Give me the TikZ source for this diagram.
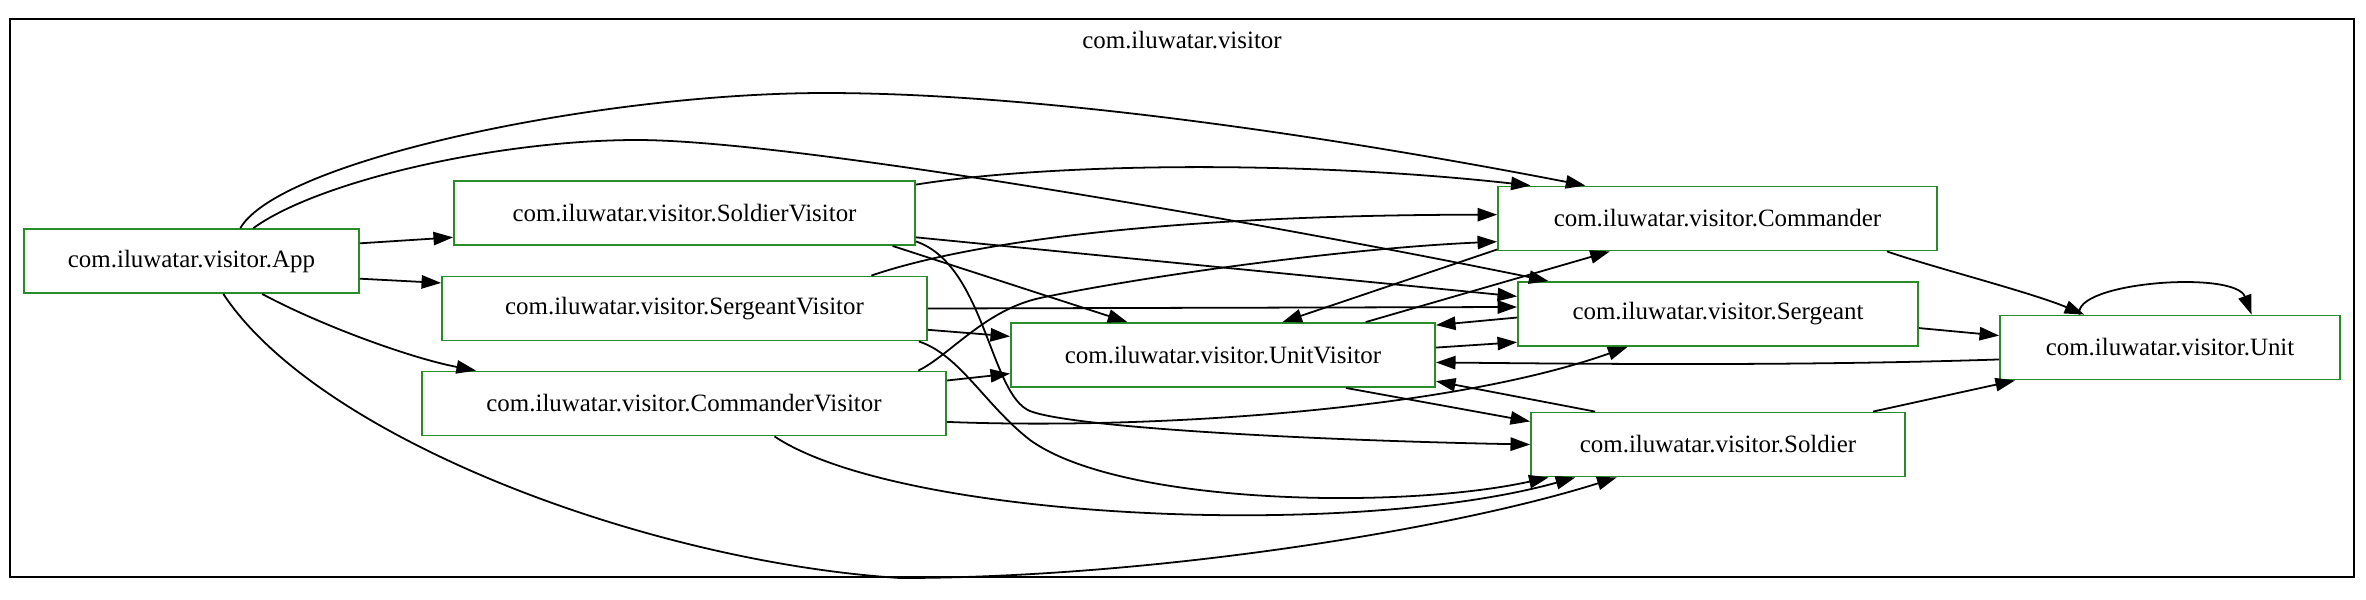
\documentclass[tikz,border=0pt]{standalone}
\usepackage{fontspec}
\setmainfont{Liberation Serif}
\usepackage{tikz}
\usepackage{xcolor}
\usetikzlibrary{arrows.meta}
\definecolor{clsgreen}{RGB}{40,140,40}

\begin{document}
\begin{tikzpicture}[x=0.5617pt, y=-0.5617pt, font=\fontsize{14}{16}\selectfont,
                cls/.style={draw=clsgreen, line width=1pt, minimum height=36pt, inner sep=0pt},
                dep/.style={-{Triangle[length=11pt, width=7.5pt]}, line width=1pt}]
                \useasboundingbox (0, 0) rectangle (2366, 599);
                \draw[line width=1pt] (10, 19) rectangle (2354, 577);
                \node (pkg) at (1182, 40) {com.iluwatar.visitor};

                \node[cls, minimum width=188.2pt] (app) at (191.5, 261) {com.iluwatar.visitor.App};
                \node[cls, minimum width=259.0pt] (soldierv) at (684.5, 213) {com.iluwatar.visitor.SoldierVisitor};
                \node[cls, minimum width=272.4pt] (sergeantv) at (684.5, 308.5) {com.iluwatar.visitor.SergeantVisitor};
                \node[cls, minimum width=294.3pt] (commanderv) at (684, 403.5) {com.iluwatar.visitor.CommanderVisitor};
                \node[cls, minimum width=238.2pt] (unitv) at (1223, 355) {com.iluwatar.visitor.UnitVisitor};
                \node[cls, minimum width=246.6pt] (commander) at (1717.5, 218.5) {com.iluwatar.visitor.Commander};
                \node[cls, minimum width=224.7pt] (sergeant) at (1718, 314) {com.iluwatar.visitor.Sergeant};
                \node[cls, minimum width=210.1pt] (soldier) at (1718, 444.5) {com.iluwatar.visitor.Soldier};
                \node[cls, minimum width=191.0pt] (unit) at (2170, 347.5) {com.iluwatar.visitor.Unit};

                \draw[dep] (app.6) -- (soldierv.186);
                \draw[dep] (app.-6) -- (sergeantv.174);
                \draw[dep] (app.-25) .. controls (320, 325) and (410, 358) .. (commanderv.171);
                \draw[dep] (app.34) .. controls (280, 160) and (600, 93) .. (825, 93) .. controls (1050, 93) and (1350, 140) .. (commander.166);
                \draw[dep] (app.28) .. controls (320, 180) and (500, 140) .. (637, 140) .. controls (800, 140) and (1300, 230) .. (sergeant.169);
                \draw[dep] (app.-46) .. controls (320, 440) and (650, 562) .. (900, 578) .. controls (1150, 578) and (1450, 530) .. (soldier.198);

                \draw[dep] (soldierv.7) .. controls (1050, 163) and (1300, 160) .. (commander.170);
                \draw[dep] (soldierv.-6) -- (sergeant.175);
                \draw[dep] (soldierv.-9) -- (unitv.161);
                \draw[dep] (soldierv.-7) .. controls (985, 265) and (990, 395) .. (1030, 411) .. controls (1070, 427) and (1300, 440) .. (soldier.180);

                \draw[dep] (sergeantv.10) .. controls (960, 245) and (1150, 215) .. (commander.179);
                \draw[dep] (sergeantv.0) -- (sergeant.178);
                \draw[dep] (sergeantv.-5) -- (unitv.175);
                \draw[dep] (sergeantv.-8) .. controls (960, 355) and (985, 405) .. (1030, 440) .. controls (1120, 505) and (1400, 510) .. (soldier.191);

                \draw[dep] (commanderv.8) .. controls (950, 355) and (985, 310) .. (1040, 298) .. controls (1150, 275) and (1350, 248) .. (commander.186);
                \draw[dep] (commanderv.5) -- (unitv.185);
                \draw[dep] (commanderv.-4) .. controls (1150, 430) and (1450, 410) .. (sergeant.200);
                \draw[dep] (commanderv.-20) .. controls (900, 520) and (1350, 540) .. (soldier.193);

                \draw[dep] (unitv.13) -- (commander.197);
                \draw[dep] (unitv.2) -- (sergeant.188);
                \draw[dep] (unitv.-15) -- (soldier.173);

                \draw[dep] (commander.188) -- (unitv.29);
                \draw[dep] (commander.-11) .. controls (1935, 268) and (2030, 292) .. (unit.159);
                \draw[dep] (sergeant.181) -- (unitv.8);
                \draw[dep] (sergeant.-4) -- (unit.176);
                \draw[dep] (soldier.165) -- (unitv.-7);
                \draw[dep] (soldier.12) -- (unit.192);
                \draw[dep] (unit.184) .. controls (1800, 366) and (1600, 364) .. (unitv.-2);
                \draw[dep] (unit.160) .. controls (2072, 282) and (2235, 270) .. (unit.22);
            \end{tikzpicture}
\end{document}
